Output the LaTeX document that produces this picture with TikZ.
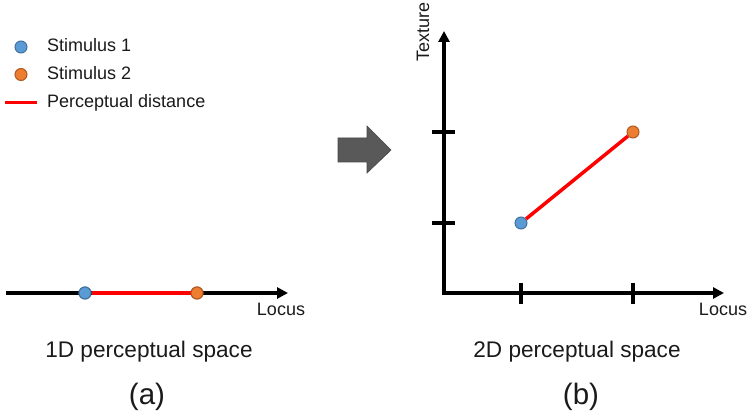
\documentclass[tikz,border=0pt]{standalone}
\usepackage{fontspec}
\setmainfont{Liberation Sans}
\usetikzlibrary{arrows.meta}
\definecolor{dotblue}{HTML}{5B9BD5}
\definecolor{dotblueedge}{HTML}{41719C}
\definecolor{dotorange}{HTML}{ED7D31}
\definecolor{dotorangeedge}{HTML}{AE5A21}
\definecolor{arrowgray}{HTML}{595959}
\definecolor{txt}{HTML}{1A1A1A}
\begin{document}
\begin{tikzpicture}[x=1pt,y=-1pt,
  bluedot/.style={circle,fill=dotblue,draw=dotblueedge,line width=1pt,minimum size=12pt,inner sep=0pt},
  orangedot/.style={circle,fill=dotorange,draw=dotorangeedge,line width=1pt,minimum size=12pt,inner sep=0pt},
  axisline/.style={line width=3.2pt,-{Triangle[length=11pt,width=11pt]}},
  tickline/.style={line width=3.5pt},
  distline/.style={red,line width=3.5pt},
  smalltext/.style={font=\fontsize{18}{21}\selectfont,text=txt,inner sep=0pt},
  midtext/.style={font=\fontsize{22.6}{26}\selectfont,text=txt,inner sep=0pt},
  bigtext/.style={font=\fontsize{29.5}{34}\selectfont,text=txt,inner sep=0pt}]
\useasboundingbox (0,0) rectangle (754,419);
% legend
\node[bluedot] (lb) at (21,47) {};
\node[orangedot] (lo) at (21,74.5) {};
\coordinate (lr1) at (5,102.5);
\coordinate (lr2) at (37,102.5);
\draw[distline] (lr1) -- (lr2);
\node[smalltext,anchor=base west] (t1) at (47,52) {Stimulus 1};
\node[smalltext,anchor=base west] (t2) at (47,80) {Stimulus 2};
\node[smalltext,anchor=base west] (t3) at (47,107.5) {Perceptual distance};
% 1D space
\coordinate (a1s) at (6,293);
\coordinate (a1e) at (288,293);
\draw[axisline] (a1s) -- (a1e);
\node[bluedot] (d1) at (85,293) {};
\node[orangedot] (d2) at (197,293) {};
\draw[distline] (d1) -- (d2);
\node[bluedot] at (85,293) {};
\node[orangedot] at (197,293) {};
\node[smalltext,anchor=base] (loc1) at (281,316) {Locus};
\node[midtext,anchor=base] (cap1) at (149,357) {1D perceptual space};
\node[bigtext,anchor=base] (la) at (147,404) {(a)};
% block arrow
\filldraw[fill=arrowgray,draw=arrowgray!80!black,line width=0.6pt]
  (338,138) -- (367,138) -- (367,126) -- (391,150) -- (367,173) -- (367,162) -- (338,162) -- cycle;
% 2D space
\coordinate (o2) at (444,293);
\coordinate (y2) at (444,31);
\coordinate (x2) at (724,293);
\draw[axisline] (o2) -- (y2);
\draw[axisline] ([xshift=-1.6pt]o2) -- (x2);
\coordinate (ty1a) at (432,132); \coordinate (ty1b) at (455,132);
\coordinate (ty2a) at (432,223); \coordinate (ty2b) at (455,223);
\coordinate (tx1a) at (521,283); \coordinate (tx1b) at (521,304);
\coordinate (tx2a) at (633,283); \coordinate (tx2b) at (633,304);
\draw[tickline] (ty1a) -- (ty1b);
\draw[tickline] (ty2a) -- (ty2b);
\draw[tickline] (tx1a) -- (tx1b);
\draw[tickline] (tx2a) -- (tx2b);
\node[bluedot] (e1) at (521,223) {};
\node[orangedot] (e2) at (633,132) {};
\draw[distline] (e1) -- (e2);
\node[smalltext,anchor=base] (loc2) at (723,315) {Locus};
\node[smalltext,anchor=base west,rotate=90] (tex) at (429,62) {Texture};
\node[midtext,anchor=base] (cap2) at (577,357) {2D perceptual space};
\node[bigtext,anchor=base] (lb2) at (581,404) {(b)};
\end{tikzpicture}
\end{document}
